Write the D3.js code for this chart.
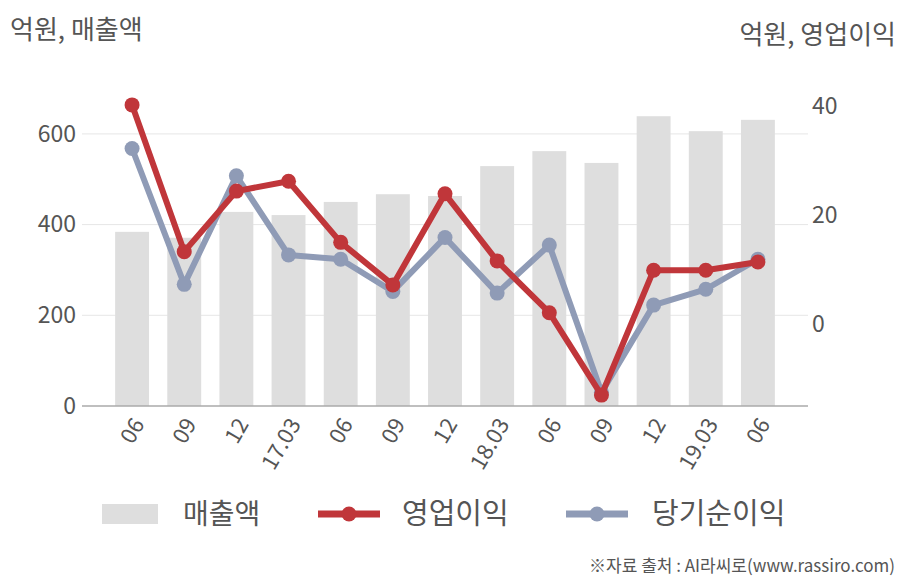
<!DOCTYPE html>
<html><head><meta charset="utf-8">
<script src="https://cdn.jsdelivr.net/npm/d3@7"></script>
<style>
body{margin:0;background:#fff;}
text{font-family:"Noto Sans CJK KR","Noto Sans",sans-serif;}
</style></head>
<body><svg id="c" width="908" height="580"></svg>
<script>
const categories = ["06","09","12","17.03","06","09","12","18.03","06","09","12","19.03","06"];
const sales = [384, 371, 428, 421, 450, 467, 463, 529, 562, 536, 639, 606, 631];
const operatingProfit = [40.2, 13.3, 24.4, 26.2, 15.0, 7.2, 23.9, 11.6, 2.1, -13.0, 9.9, 9.9, 11.4];
const netProfit = [32.2, 7.3, 27.2, 12.7, 11.9, 6.0, 15.9, 5.7, 14.5, -12.5, 3.5, 6.4, 11.9];
const leftTicks = [0, 200, 400, 600];
const rightTicks = [0, 20, 40];

const svg = d3.select("#c");
const red = "#c0363a", blue = "#8f9bb6", barC = "#dedede", txt = "#555";
const idx = categories.map((d,i)=>i);
const x = d3.scaleBand().domain(idx).range([106,784]).paddingInner(0.35).paddingOuter(0.175);
const yL = d3.scaleLinear().domain([0,700]).range([406, 406-700*0.4535]);
const yR = d3.scaleLinear().domain([-15,40]).range([406,106]);

// gridlines
svg.append("g").selectAll("line").data(leftTicks.filter(d=>d>0)).join("line")
  .attr("x1",82).attr("x2",808).attr("y1",d=>yL(d)).attr("y2",d=>yL(d))
  .attr("stroke","#e6e6e6").attr("stroke-width",1);

// bars
svg.append("g").selectAll("rect").data(sales).join("rect")
  .attr("x",(d,i)=>x(i)).attr("width",x.bandwidth())
  .attr("y",d=>yL(d)).attr("height",d=>yL(0)-yL(d)).attr("fill",barC);

// baseline
svg.append("line").attr("x1",82).attr("x2",808).attr("y1",yL(0)).attr("y2",yL(0))
  .attr("stroke","#aaa").attr("stroke-width",1.5);

// left axis
const gl = svg.append("g").attr("transform","translate(76,0)")
  .call(d3.axisLeft(yL).tickValues(leftTicks).tickSize(0).tickPadding(0));
gl.select(".domain").remove();
gl.selectAll("text").attr("font-size",23).attr("fill",txt);

// right axis
const gr = svg.append("g").attr("transform","translate(812,0)")
  .call(d3.axisRight(yR).tickValues(rightTicks).tickSize(0).tickPadding(0));
gr.select(".domain").remove();
gr.selectAll("text").attr("font-size",23).attr("fill",txt);

// x axis
const gx = svg.append("g").attr("transform","translate(0,"+yL(0)+")")
  .call(d3.axisBottom(x).tickFormat(i=>categories[i]).tickSize(0));
gx.select(".domain").remove();
gx.selectAll("text").attr("font-size",22).attr("fill",txt)
  .attr("text-anchor","end").attr("dy",0).attr("y",0)
  .attr("transform","translate(13,18) rotate(-60)");

// lines
function series(data, color){
  const line = d3.line().x((d,i)=>x(i)+x.bandwidth()/2).y(d=>yR(d));
  const g = svg.append("g");
  g.append("path").datum(data).attr("d",line).attr("fill","none")
    .attr("stroke",color).attr("stroke-width",6).attr("stroke-linejoin","round");
  g.selectAll("circle").data(data).join("circle")
    .attr("cx",(d,i)=>x(i)+x.bandwidth()/2).attr("cy",d=>yR(d)).attr("r",7.5).attr("fill",color);
}
series(netProfit, blue);
series(operatingProfit, red);

// titles
svg.append("text").attr("x",10).attr("y",30).attr("dy","0.36em").attr("font-size",26).attr("fill",txt).text("억원, 매출액");
svg.append("text").attr("x",896).attr("y",35).attr("dy","0.36em").attr("text-anchor","end").attr("font-size",26).attr("fill",txt).text("억원, 영업이익");

// legend
const ly = 514;
svg.append("rect").attr("x",102).attr("y",ly-10).attr("width",56).attr("height",20).attr("fill",barC);
svg.append("text").attr("x",183).attr("y",ly).attr("dy","0.36em").attr("font-size",28).attr("fill",txt).text("매출액");
svg.append("line").attr("x1",318).attr("x2",380).attr("y1",ly).attr("y2",ly).attr("stroke",red).attr("stroke-width",7);
svg.append("circle").attr("cx",349).attr("cy",ly).attr("r",7.5).attr("fill",red);
svg.append("text").attr("x",402).attr("y",ly).attr("dy","0.36em").attr("font-size",29).attr("fill",txt).text("영업이익");
svg.append("line").attr("x1",566).attr("x2",628).attr("y1",ly).attr("y2",ly).attr("stroke",blue).attr("stroke-width",7);
svg.append("circle").attr("cx",597).attr("cy",ly).attr("r",7.5).attr("fill",blue);
svg.append("text").attr("x",652).attr("y",ly).attr("dy","0.36em").attr("font-size",29).attr("fill",txt).text("당기순이익");

svg.append("text").attr("x",895).attr("y",566).attr("dy","0.36em").attr("text-anchor","end").attr("font-size",17).attr("fill",txt).text("※자료 출처 : AI라씨로(www.rassiro.com)");
</script></body></html>
